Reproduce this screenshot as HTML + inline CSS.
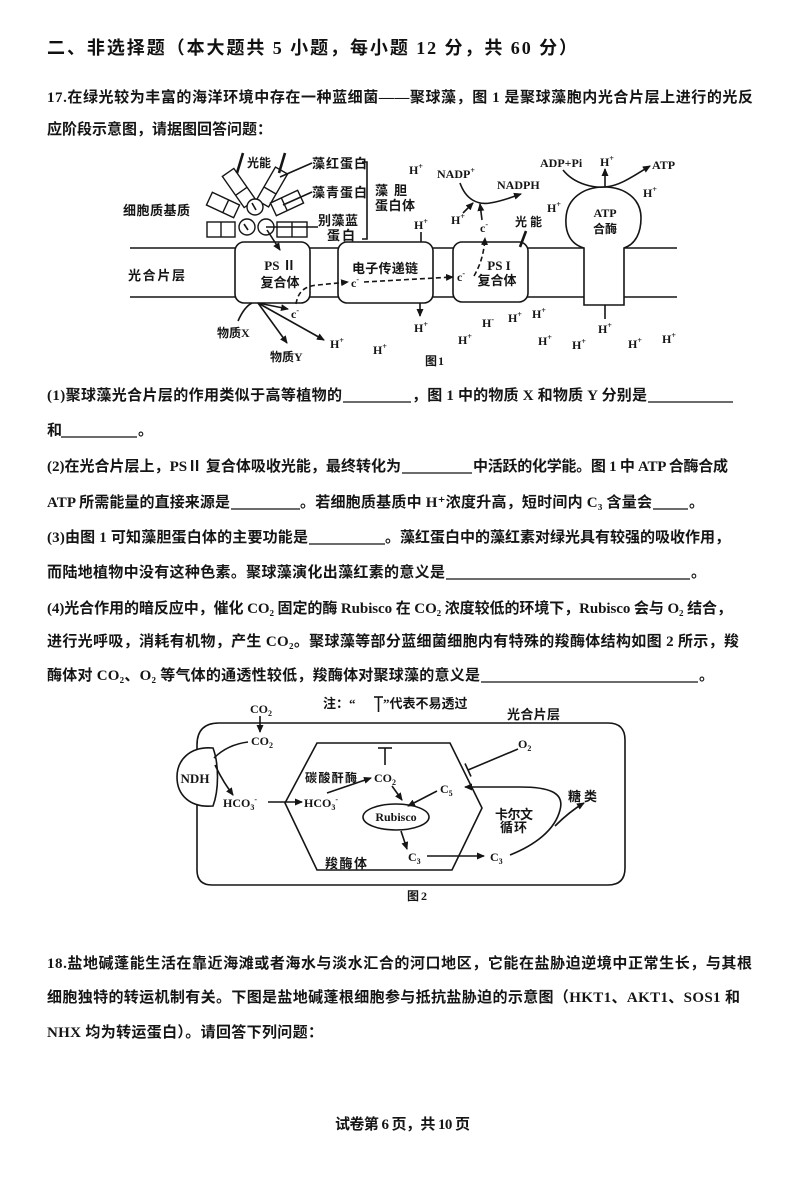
<!DOCTYPE html>
<html>
<head>
<meta charset="utf-8">
<style>
html,body{margin:0;padding:0;background:#fff;}
body{width:800px;height:1181px;overflow:hidden;}
svg{display:block;}
.b{font-family:"Liberation Serif","Noto Sans CJK SC","DejaVu Sans",sans-serif;font-size:15px;font-weight:bold;fill:#151515;}
.h{font-family:"Liberation Serif","Noto Sans CJK SC",sans-serif;font-size:18px;font-weight:bold;fill:#111;}
.f{font-family:"Liberation Serif","Noto Sans CJK SC","DejaVu Sans",sans-serif;font-size:13px;font-weight:bold;fill:#151515;}
.fs{font-family:"Liberation Serif","Noto Sans CJK SC","DejaVu Sans",sans-serif;font-size:12px;font-weight:bold;fill:#151515;}
.ln{stroke:#151515;stroke-width:1.6;fill:none;}
.ul{stroke:#151515;stroke-width:1.3;}
</style>
</head>
<body>
<svg width="800" height="1181" viewBox="0 0 800 1181" xmlns="http://www.w3.org/2000/svg">
<defs>
<marker id="ah" markerUnits="userSpaceOnUse" markerWidth="8" markerHeight="7" refX="7" refY="3.5" orient="auto">
<path d="M0,0 L8,3.5 L0,7 Z" fill="#151515"/>
</marker>
</defs>

<!-- ===== Heading & text ===== -->
<text class="h" x="47" y="54" textLength="530" lengthAdjust="spacing">二、非选择题（本大题共 5 小题，每小题 12 分，共 60 分）</text>
<text class="b" x="47" y="102" textLength="706" lengthAdjust="spacing">17.在绿光较为丰富的海洋环境中存在一种蓝细菌——聚球藻，图 1 是聚球藻胞内光合片层上进行的光反</text>
<text class="b" x="47" y="134" textLength="225" lengthAdjust="spacing">应阶段示意图，请据图回答问题：</text>

<!-- (1) -->
<text class="b" x="47" y="400" textLength="295" lengthAdjust="spacing">(1)聚球藻光合片层的作用类似于高等植物的</text>
<line class="ul" x1="343" y1="402" x2="411" y2="402"/>
<text class="b" x="412" y="400" textLength="235" lengthAdjust="spacing">，图 1 中的物质 X 和物质 Y 分别是</text>
<line class="ul" x1="648" y1="402" x2="733" y2="402"/>
<text class="b" x="47" y="435">和</text>
<line class="ul" x1="61" y1="437" x2="137" y2="437"/>
<text class="b" x="138" y="435">。</text>

<!-- (2) -->
<text class="b" x="47" y="471" textLength="354" lengthAdjust="spacing">(2)在光合片层上，PSⅡ 复合体吸收光能，最终转化为</text>
<line class="ul" x1="402" y1="473" x2="472" y2="473"/>
<text class="b" x="473" y="471" textLength="255" lengthAdjust="spacing">中活跃的化学能。图 1 中 ATP 合酶合成</text>
<text class="b" x="47" y="507" textLength="183" lengthAdjust="spacing">ATP 所需能量的直接来源是</text>
<line class="ul" x1="231" y1="509" x2="300" y2="509"/>
<text class="b" x="300" y="507" textLength="352" lengthAdjust="spacing">。若细胞质基质中 H⁺浓度升高，短时间内 C₃ 含量会</text>
<line class="ul" x1="653" y1="509" x2="688" y2="509"/>
<text class="b" x="689" y="507">。</text>

<!-- (3) -->
<text class="b" x="47" y="542" textLength="261" lengthAdjust="spacing">(3)由图 1 可知藻胆蛋白体的主要功能是</text>
<line class="ul" x1="309" y1="544" x2="385" y2="544"/>
<text class="b" x="385" y="542" textLength="345" lengthAdjust="spacing">。藻红蛋白中的藻红素对绿光具有较强的吸收作用，</text>
<text class="b" x="47" y="577" textLength="398" lengthAdjust="spacing">而陆地植物中没有这种色素。聚球藻演化出藻红素的意义是</text>
<line class="ul" x1="446" y1="579" x2="690" y2="579"/>
<text class="b" x="691" y="577">。</text>

<!-- (4) -->
<text class="b" x="47" y="613" textLength="685" lengthAdjust="spacing">(4)光合作用的暗反应中，催化 CO₂ 固定的酶 Rubisco 在 CO₂ 浓度较低的环境下，Rubisco 会与 O₂ 结合，</text>
<text class="b" x="47" y="646" textLength="692" lengthAdjust="spacing">进行光呼吸，消耗有机物，产生 CO₂。聚球藻等部分蓝细菌细胞内有特殊的羧酶体结构如图 2 所示，羧</text>
<text class="b" x="47" y="680" textLength="433" lengthAdjust="spacing">酶体对 CO₂、O₂ 等气体的通透性较低，羧酶体对聚球藻的意义是</text>
<line class="ul" x1="481" y1="682" x2="698" y2="682"/>
<text class="b" x="699" y="680">。</text>

<!-- 18 -->
<text class="b" x="47" y="968" textLength="705" lengthAdjust="spacing">18.盐地碱蓬能生活在靠近海滩或者海水与淡水汇合的河口地区，它能在盐胁迫逆境中正常生长，与其根</text>
<text class="b" x="47" y="1002" textLength="693" lengthAdjust="spacing">细胞独特的转运机制有关。下图是盐地碱蓬根细胞参与抵抗盐胁迫的示意图（HKT1、AKT1、SOS1 和</text>
<text class="b" x="47" y="1037" textLength="276" lengthAdjust="spacing">NHX 均为转运蛋白）。请回答下列问题：</text>

<text class="b" x="335" y="1129" textLength="135" lengthAdjust="spacing">试卷第 6 页，共 10 页</text>

<!-- ===== Figure 1 ===== -->
<g>
<line class="ln" x1="130" y1="248" x2="677" y2="248"/>
<line class="ln" x1="130" y1="297" x2="677" y2="297"/>
<rect x="235" y="242" width="75" height="61" rx="9" fill="#fff" stroke="#151515" stroke-width="1.6"/>
<rect x="338" y="242" width="95" height="61" rx="9" fill="#fff" stroke="#151515" stroke-width="1.6"/>
<rect x="453" y="242" width="75" height="60" rx="9" fill="#fff" stroke="#151515" stroke-width="1.6"/>
<path d="M584,305 L584,248 C570,244 565,232 566,218 C567,198 584,187 604,187 C624,187 641,198 641,218 C641,232 636,244 624,248 L624,305 Z" fill="#fff" stroke="#151515" stroke-width="1.6"/>

<!-- phycobilisome -->
<g stroke="#151515" stroke-width="1.4" fill="#fff">
<rect x="207" y="222" width="28" height="15"/>
<line x1="221" y1="222" x2="221" y2="237"/>
<rect x="277" y="222" width="30" height="15"/>
<line x1="292" y1="222" x2="292" y2="237"/>
<g transform="translate(239,188) rotate(-35)"><rect x="-7" y="-19" width="14" height="38"/><line x1="-7" y1="4" x2="7" y2="4"/></g>
<g transform="translate(272,187) rotate(30)"><rect x="-7" y="-19" width="14" height="38"/><line x1="-7" y1="4" x2="7" y2="4"/></g>
<g transform="translate(223,205) rotate(25)"><rect x="-15" y="-7" width="30" height="14"/><line x1="3" y1="-7" x2="3" y2="7"/></g>
<g transform="translate(287,203) rotate(-25)"><rect x="-15" y="-7" width="30" height="14"/><line x1="-3" y1="-7" x2="-3" y2="7"/></g>
<circle cx="255" cy="207" r="8"/>
<circle cx="247" cy="227" r="8"/>
<circle cx="266" cy="227" r="8"/>
</g>
<g class="ln" stroke-width="1.2">
<line x1="252" y1="203" x2="256" y2="210"/>
<line x1="244" y1="224" x2="248" y2="230"/>
<line x1="266" y1="227" x2="318" y2="227"/>
<line x1="280" y1="177" x2="312" y2="163"/>
<line x1="283" y1="205" x2="312" y2="192"/>
<path d="M362,162 L367,162 L367,239 L362,239"/>
</g>
<line class="ln" stroke-width="1.3" x1="267" y1="230" x2="280" y2="250" marker-end="url(#ah)"/>
<!-- light arrows -->
<line x1="243" y1="153" x2="237" y2="173" stroke="#151515" stroke-width="2.6"/>
<line x1="285" y1="153" x2="279" y2="173" stroke="#151515" stroke-width="2.6"/>
<text class="fs" x="247" y="167" textLength="24" lengthAdjust="spacing">光能</text>
<text class="f" x="312" y="168" textLength="55" lengthAdjust="spacing">藻红蛋白</text>
<text class="f" x="312" y="197" textLength="55" lengthAdjust="spacing">藻青蛋白</text>
<text class="f" x="318" y="225" textLength="40" lengthAdjust="spacing">别藻蓝</text>
<text class="f" x="327" y="240" textLength="28" lengthAdjust="spacing">蛋白</text>
<text class="f" x="375" y="195" textLength="32" lengthAdjust="spacing">藻胆</text>
<text class="f" x="375" y="210" textLength="40" lengthAdjust="spacing">蛋白体</text>
<text class="f" x="123" y="215" textLength="67" lengthAdjust="spacing">细胞质基质</text>
<text class="f" x="128" y="280" textLength="57" lengthAdjust="spacing">光合片层</text>

<text class="f" x="280" y="270" text-anchor="middle">PS Ⅱ</text>
<text class="f" x="280" y="287" text-anchor="middle">复合体</text>
<text class="f" x="385" y="273" text-anchor="middle" textLength="66" lengthAdjust="spacing">电子传递链</text>
<text class="f" x="499" y="270" text-anchor="middle">PS I</text>
<text class="f" x="497" y="285" text-anchor="middle">复合体</text>
<text class="fs" x="605" y="217" text-anchor="middle">ATP</text>
<text class="fs" x="605" y="233" text-anchor="middle">合酶</text>

<!-- electron path -->
<path class="ln" stroke-width="1.4" stroke-dasharray="5,3" d="M296,304 C298,292 304,286 318,285 L348,282" marker-end="url(#ah)"/>
<text class="fs" x="351" y="287">c<tspan font-size="8" dy="-5">-</tspan></text>
<path class="ln" stroke-width="1.4" stroke-dasharray="5,3" d="M364,282 L453,277" marker-end="url(#ah)"/>
<text class="fs" x="457" y="281">c<tspan font-size="8" dy="-5">-</tspan></text>
<path class="ln" stroke-width="1.4" stroke-dasharray="5,3" d="M474,276 C481,264 484,252 485,238" marker-end="url(#ah)"/>
<text class="fs" x="480" y="232">c<tspan font-size="8" dy="-5">-</tspan></text>
<line class="ln" stroke-width="1.3" x1="482" y1="220" x2="480" y2="204" marker-end="url(#ah)"/>
<text class="fs" x="451" y="224">H<tspan font-size="8" dy="-5">+</tspan></text>
<line class="ln" stroke-width="1.3" x1="463" y1="213" x2="473" y2="203" marker-end="url(#ah)"/>
<path class="ln" stroke-width="1.4" d="M460,183 C466,200 478,205 490,203 C503,201 512,197 521,194" marker-end="url(#ah)"/>
<text class="fs" x="437" y="178">NADP<tspan font-size="8" dy="-5">+</tspan></text>
<text class="fs" x="497" y="189">NADPH</text>
<text class="fs" x="409" y="174">H<tspan font-size="8" dy="-5">+</tspan></text>
<text class="fs" x="414" y="229">H<tspan font-size="8" dy="-5">+</tspan></text>
<line class="ln" stroke-width="1.3" x1="421" y1="232" x2="421" y2="242"/>
<text class="fs" x="547" y="212">H<tspan font-size="8" dy="-5">+</tspan></text>
<text class="fs" x="515" y="226" textLength="27" lengthAdjust="spacing">光能</text>
<line x1="526" y1="231" x2="520" y2="247" stroke="#151515" stroke-width="2.6"/>

<!-- ATP part -->
<text class="fs" x="540" y="167">ADP+Pi</text>
<text class="fs" x="600" y="166">H<tspan font-size="8" dy="-5">+</tspan></text>
<line class="ln" stroke-width="1.3" x1="605" y1="187" x2="605" y2="169" marker-end="url(#ah)"/>
<path class="ln" stroke-width="1.4" d="M563,170 C575,185 595,188 605,187 C620,186 635,175 650,166" marker-end="url(#ah)"/>
<text class="fs" x="652" y="169">ATP</text>
<text class="fs" x="643" y="197">H<tspan font-size="8" dy="-5">+</tspan></text>

<!-- below membrane -->
<line class="ln" stroke-width="1.3" x1="420" y1="303" x2="420" y2="316" marker-end="url(#ah)"/>
<text class="fs" x="414" y="332">H<tspan font-size="8" dy="-5">+</tspan></text>
<text class="fs" x="482" y="327">H<tspan font-size="8" dy="-5">-</tspan></text>
<text class="fs" x="508" y="322">H<tspan font-size="8" dy="-5">+</tspan></text>
<text class="fs" x="532" y="318">H<tspan font-size="8" dy="-5">+</tspan></text>
<text class="fs" x="458" y="344">H<tspan font-size="8" dy="-5">+</tspan></text>
<text class="fs" x="538" y="345">H<tspan font-size="8" dy="-5">+</tspan></text>
<text class="fs" x="572" y="349">H<tspan font-size="8" dy="-5">+</tspan></text>
<line class="ln" stroke-width="1.3" x1="605" y1="305" x2="605" y2="319"/>
<text class="fs" x="598" y="333">H<tspan font-size="8" dy="-5">+</tspan></text>
<text class="fs" x="628" y="348">H<tspan font-size="8" dy="-5">+</tspan></text>
<text class="fs" x="662" y="343">H<tspan font-size="8" dy="-5">+</tspan></text>
<text class="fs" x="425" y="365" textLength="19" lengthAdjust="spacing">图1</text>

<g class="ln" stroke-width="1.3">
<line x1="258" y1="303" x2="288" y2="309" marker-end="url(#ah)"/>
<line x1="258" y1="303" x2="324" y2="340" marker-end="url(#ah)"/>
<line x1="258" y1="303" x2="287" y2="343" marker-end="url(#ah)"/>
<path d="M238,321 C242,312 246,306 252,303"/>
</g>
<text class="fs" x="291" y="318">c<tspan font-size="8" dy="-5">-</tspan></text>
<text class="fs" x="330" y="348">H<tspan font-size="8" dy="-5">+</tspan></text>
<text class="fs" x="373" y="354">H<tspan font-size="8" dy="-5">+</tspan></text>
<text class="fs" x="217" y="337">物质X</text>
<text class="fs" x="270" y="361">物质Y</text>
</g>

<!-- ===== Figure 2 ===== -->
<g>
<path class="ln" d="M219,723 L608,723 Q625,723 625,740 L625,868 Q625,885 608,885 L212,885 Q197,885 197,870 L197,745 Q197,723 219,723 Z"/>
<path d="M213,748 C190,746 177,760 177,777 C177,795 190,808 213,806 C219,790 219,764 213,748 Z" fill="#fff" stroke="#151515" stroke-width="1.6"/>
<text class="f" x="195" y="783" text-anchor="middle">NDH</text>

<text class="f" x="323" y="708">注：“</text>
<line class="ln" stroke-width="1.6" x1="374" y1="697" x2="383" y2="697"/>
<line class="ln" stroke-width="1.6" x1="378.5" y1="697" x2="378.5" y2="712"/>
<text class="f" x="383" y="708">”代表不易透过</text>
<text class="f" x="507" y="719" textLength="53" lengthAdjust="spacing">光合片层</text>

<text class="fs" x="261" y="713" text-anchor="middle">CO<tspan font-size="8" dy="3">2</tspan></text>
<line class="ln" stroke-width="1.3" x1="260" y1="716" x2="260" y2="732" marker-end="url(#ah)"/>
<text class="fs" x="262" y="745" text-anchor="middle">CO<tspan font-size="8" dy="3">2</tspan></text>
<path class="ln" stroke-width="1.4" d="M248,742 C232,744 222,750 214,758"/>
<path class="ln" stroke-width="1.4" d="M215,765 C222,780 228,788 233,795" marker-end="url(#ah)"/>
<text class="fs" x="223" y="807">HCO<tspan font-size="8" dy="3">3</tspan><tspan font-size="8" dy="-8">-</tspan></text>
<line class="ln" stroke-width="1.4" x1="268" y1="802" x2="302" y2="802" marker-end="url(#ah)"/>
<text class="fs" x="304" y="807">HCO<tspan font-size="8" dy="3">3</tspan><tspan font-size="8" dy="-8">-</tspan></text>

<path class="ln" d="M317,743 L450,743 L482,808 L452,870 L317,870 L285,803 Z"/>
<text class="fs" x="305" y="782" textLength="52" lengthAdjust="spacing">碳酸酐酶</text>
<line class="ln" stroke-width="1.4" x1="327" y1="793" x2="371" y2="778" marker-end="url(#ah)"/>
<text class="fs" x="385" y="782" text-anchor="middle">CO<tspan font-size="8" dy="3">2</tspan></text>
<line class="ln" stroke-width="1.6" x1="378" y1="748" x2="392" y2="748"/>
<line class="ln" stroke-width="1.6" x1="385" y1="748" x2="385" y2="765"/>
<line class="ln" stroke-width="1.4" x1="392" y1="786" x2="402" y2="800" marker-end="url(#ah)"/>
<ellipse cx="396" cy="817" rx="33" ry="13" fill="#fff" stroke="#151515" stroke-width="1.6"/>
<text class="fs" x="396" y="821" text-anchor="middle">Rubisco</text>
<line class="ln" stroke-width="1.4" x1="401" y1="831" x2="407" y2="849" marker-end="url(#ah)"/>
<text class="fs" x="408" y="861">C<tspan font-size="8" dy="3">3</tspan></text>
<line class="ln" stroke-width="1.4" x1="427" y1="856" x2="484" y2="856" marker-end="url(#ah)"/>
<text class="fs" x="490" y="861">C<tspan font-size="8" dy="3">3</tspan></text>
<path class="ln" stroke-width="1.4" d="M510,855 C535,845 555,830 560,810 C565,792 548,787 520,787 L465,787" marker-end="url(#ah)"/>
<path class="ln" stroke-width="1.4" d="M555,826 C563,818 572,810 584,803" marker-end="url(#ah)"/>
<text class="f" x="568" y="801" textLength="29" lengthAdjust="spacing">糖类</text>
<text class="fs" x="440" y="793">C<tspan font-size="8" dy="3">5</tspan></text>
<line class="ln" stroke-width="1.4" x1="437" y1="791" x2="408" y2="806" marker-end="url(#ah)"/>
<text class="f" x="495" y="819" textLength="38" lengthAdjust="spacing">卡尔文</text>
<text class="f" x="500" y="832" textLength="27" lengthAdjust="spacing">循环</text>
<text class="fs" x="518" y="748">O<tspan font-size="8" dy="3">2</tspan></text>
<line class="ln" stroke-width="1.4" x1="518" y1="749" x2="468" y2="770"/>
<line class="ln" stroke-width="1.6" x1="465" y1="763.5" x2="471" y2="776.5"/>
<text class="f" x="325" y="868" textLength="42" lengthAdjust="spacing">羧酶体</text>
<text class="fs" x="407" y="900" textLength="20" lengthAdjust="spacing">图2</text>
</g>
</svg>
</body>
</html>
